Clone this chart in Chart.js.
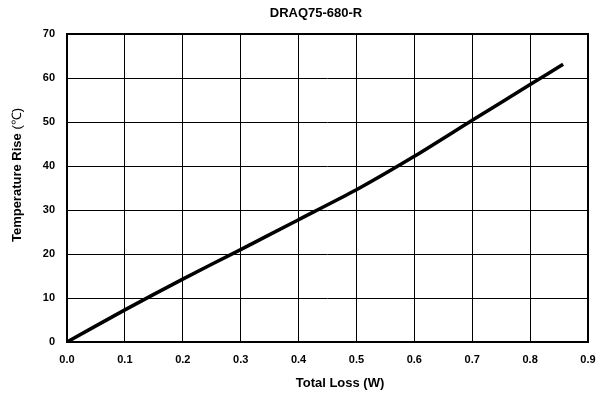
<!DOCTYPE html>
<html>
<head>
<meta charset="utf-8">
<script src="https://cdn.jsdelivr.net/npm/chart.js@4"></script>
<style>
  html, body { margin: 0; padding: 0; background: #fff; }
  #wrap { width: 597px; height: 393px; }
</style>
</head>
<body>
<div id="wrap"><canvas id="test"></canvas></div>
<script>
const lossW = [0, 0.1, 0.2, 0.3, 0.4, 0.5, 0.6, 0.7, 0.8, 0.857];
const tempRise = [0, 7.3, 14.3, 21.0, 27.8, 34.6, 42.2, 50.4, 58.5, 63.1];
const titleText = 'DRAQ75-680-R';
const xTitle = 'Total Loss (W)';
const yTitle = 'Temperature Rise ';
const yUnit = '(℃)';

const fontFam = '"Liberation Sans", Arial, sans-serif';

// frame round the plot, plus titles placed where the original has them
const frame = {
    id: 'frame',
    afterDraw(chart) {
        const a = chart.chartArea;
        const ctx = chart.ctx;
        ctx.save();
        ctx.strokeStyle = '#000';
        ctx.lineWidth = 2;
        ctx.strokeRect(a.left, a.top, a.right - a.left, a.bottom - a.top);

        ctx.fillStyle = '#000';
        ctx.textBaseline = 'middle';
        ctx.textAlign = 'center';
        ctx.font = 'bold 13px ' + fontFam;
        ctx.fillText(titleText, 316, 13);
        ctx.fillText(xTitle, 340, 383);

        // y title: bold words, regular unit
        const bold = 'bold 13px ' + fontFam;
        const reg = '13px ' + fontFam;
        ctx.font = bold;
        const w1 = ctx.measureText(yTitle).width;
        ctx.font = reg;
        const w2 = ctx.measureText(yUnit).width;
        ctx.translate(17, 175);
        ctx.rotate(-Math.PI / 2);
        ctx.textAlign = 'left';
        const start = -(w1 + w2) / 2;
        ctx.font = bold;
        ctx.fillText(yTitle, start, 0);
        ctx.font = reg;
        ctx.fillText(yUnit, start + w1, 0);
        ctx.restore();
    }
};

new Chart(
    document.getElementById('test'),
    {
        type: 'line',
        data: {
            datasets: [
                {
                    label: titleText,
                    data: lossW.map((x, i) => ({x: x, y: tempRise[i]})),
                    borderColor: '#000',
                    borderWidth: 3.5,
                    pointRadius: 0,
                    fill: false,
                    tension: 0.2,
                }
            ]
        },
        options: {
            responsive: true,
            maintainAspectRatio: false,
            animation: false,
            layout: { padding: { left: 0, right: 0, top: 34, bottom: 0 } },
            plugins: {
                legend: { display: false },
                tooltip: { enabled: false },
                title: { display: false }
            },
            scales: {
                x: {
                    type: 'linear',
                    min: 0,
                    max: 0.9,
                    border: { display: false },
                    grid: { color: '#000', lineWidth: 1, drawTicks: false },
                    ticks: {
                        stepSize: 0.1,
                        padding: 11,
                        color: '#000',
                        font: { family: fontFam, size: 11, weight: 'bold' },
                        callback: v => v.toFixed(1)
                    },
                    afterFit: s => {
                        s.height = 51;
                        s.paddingRight = 9;
                        s.paddingLeft = 0;
                    }
                },
                y: {
                    min: 0,
                    max: 70,
                    border: { display: false },
                    grid: { color: '#000', lineWidth: 1, drawTicks: false },
                    ticks: {
                        stepSize: 10,
                        padding: 12,
                        color: '#000',
                        font: { family: fontFam, size: 11, weight: 'bold' }
                    },
                    afterFit: s => {
                        s.width = 67;
                        s.paddingTop = 0;
                    }
                }
            }
        },
        plugins: [frame]
    }
);
</script>
</body>
</html>
